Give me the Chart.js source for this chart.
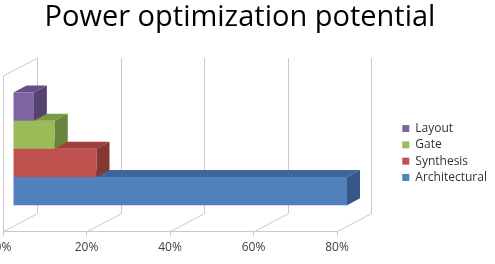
<!DOCTYPE html>
<html lang="en">
<head>
<meta charset="UTF-8">
<title>Power optimization potential</title>
<script src="https://cdn.jsdelivr.net/npm/chart.js"></script>
<style>
  html, body { margin: 0; padding: 0; background: #fff; }
  #wrap { width: 495px; height: 264px; }
</style>
</head>
<body>
<div id="wrap"><canvas id="powerChart"></canvas></div>
<script>
// legend order, top bar first
const stages = ['Layout', 'Gate', 'Synthesis', 'Architectural'];
const savings = [5, 10, 20, 80];
const tickValues = [0, 20, 40, 60, 80];
const tickLabels = ['0%', '20%', '40%', '60%', '80%'];

const frontColors = ['#8064A2', '#9BBB59', '#C0504D', '#4F81BD'];
const topColors = ['#664F85', '#7D9A44', '#9E3F3C', '#3F6699'];
const sideColors = ['#56426F', '#6A833A', '#873634', '#355785'];

// fake 3d offsets (px)
const WALL_DX = 34, WALL_DY = -18;
const BAR_DX = 10, BAR_DY = -5;
const DEPTH_DX = 13, DEPTH_DY = -7;

const box3d = {
  id: 'box3d',
  afterLayout(chart) {
    // push legend away from the plot, like the excel layout
    const l = chart.legend;
    const w = l.width;
    l.left = 398;
    l.right = 398 + w;
    l.top += 23;
    l.bottom += 23;
  },
  beforeDatasetsDraw(chart) {
    const {ctx, chartArea: a, scales: {x}} = chart;
    ctx.save();
    ctx.strokeStyle = '#c8c8c8';
    ctx.lineWidth = 1;
    ctx.beginPath();
    const lx = Math.round(a.left) + 0.5;
    ctx.moveTo(lx, a.bottom);
    ctx.lineTo(lx, a.top);
    ctx.lineTo(lx + WALL_DX, a.top + WALL_DY);
    tickValues.forEach(v => {
      const px = Math.round(x.getPixelForValue(v)) + 0.5;
      ctx.moveTo(px, a.bottom);
      ctx.lineTo(px + WALL_DX, a.bottom + WALL_DY);
      ctx.lineTo(px + WALL_DX, a.top + WALL_DY);
    });
    ctx.stroke();
    ctx.restore();
    ctx.save();
    ctx.translate(BAR_DX, BAR_DY);
  },
  afterDatasetDraw(chart, args) {
    const ctx = chart.ctx;
    const i = args.index;
    args.meta.data.forEach(bar => {
      const {x, y, base, height} = bar.getProps(['x', 'y', 'base', 'height'], true);
      const t = y - height / 2, b = y + height / 2;
      ctx.fillStyle = topColors[i];
      ctx.beginPath();
      ctx.moveTo(base, t);
      ctx.lineTo(x, t);
      ctx.lineTo(x + DEPTH_DX, t + DEPTH_DY);
      ctx.lineTo(base + DEPTH_DX, t + DEPTH_DY);
      ctx.closePath();
      ctx.fill();
      ctx.fillStyle = sideColors[i];
      ctx.beginPath();
      ctx.moveTo(x, t);
      ctx.lineTo(x + DEPTH_DX, t + DEPTH_DY);
      ctx.lineTo(x + DEPTH_DX, b + DEPTH_DY);
      ctx.lineTo(x, b);
      ctx.closePath();
      ctx.fill();
    });
  },
  afterDatasetsDraw(chart) {
    chart.ctx.restore();
  }
};

new Chart(document.getElementById('powerChart'), {
  type: 'bar',
  data: {
    labels: [''],
    datasets: stages.map((s, i) => ({
      label: s,
      data: [savings[i]],
      backgroundColor: frontColors[i],
      borderWidth: 0,
      clip: false
    }))
  },
  options: {
    indexAxis: 'y',
    responsive: true,
    maintainAspectRatio: false,
    animation: false,
    layout: { padding: { left: 3, right: 18, top: 0, bottom: 4 } },
    datasets: { bar: { barPercentage: 1, categoryPercentage: 0.724 } },
    scales: {
      x: {
        min: 0,
        max: 80,
        afterBuildTicks: s => { s.ticks = tickValues.map(v => ({ value: v })); },
        afterFit: s => { s.paddingLeft = 0; s.paddingRight = 158; },
        ticks: {
          callback: (v, i) => tickLabels[i],
          font: { family: 'Open Sans', size: 12 },
          color: '#404040',
          padding: 5,
          maxRotation: 0
        },
        grid: { drawOnChartArea: false, tickLength: 4, color: '#c8c8c8' },
        border: { color: '#c8c8c8' }
      },
      y: { display: false }
    },
    plugins: {
      title: {
        display: true,
        text: 'Power optimization potential',
        color: '#000',
        font: { family: 'Open Sans', size: 29, weight: 'normal' },
        padding: { top: 0, bottom: 41.2 }
      },
      legend: {
        position: 'right',
        labels: {
          boxWidth: 7,
          boxHeight: 7,
          padding: 4.3,
          color: '#333',
          font: { family: 'Open Sans', size: 12 }
        }
      },
      tooltip: { enabled: false }
    }
  },
  plugins: [box3d]
});
</script>
</body>
</html>
